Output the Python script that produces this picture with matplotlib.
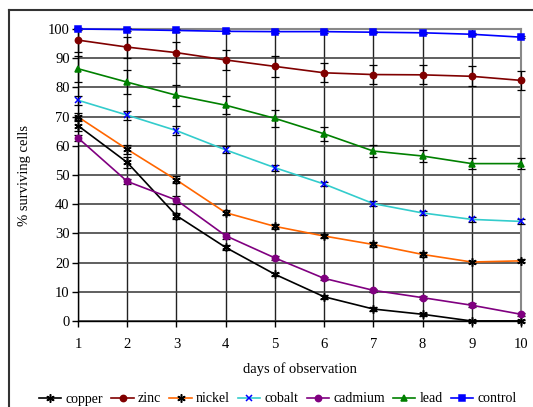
import matplotlib
matplotlib.use("Agg")
import matplotlib.pyplot as plt
from matplotlib.lines import Line2D

days = [1, 2, 3, 4, 5, 6, 7, 8, 9, 10]
copper = [66.9, 54.3, 36.1, 25.2, 16.0, 8.3, 4.1, 2.3, 0.0, 0.0]
zinc = [96.2, 93.8, 91.9, 89.4, 87.2, 85.0, 84.4, 84.3, 83.8, 82.4]
nickel = [69.9, 58.8, 48.3, 37.1, 32.4, 29.1, 26.2, 22.8, 20.2, 20.6]
cobalt = [75.6, 70.5, 65.2, 58.6, 52.5, 46.9, 40.2, 37.0, 34.8, 34.1]
cadmium = [62.7, 47.8, 41.4, 29.2, 21.6, 14.6, 10.5, 8.0, 5.4, 2.3]
lead = [86.4, 81.8, 77.3, 73.9, 69.4, 64.1, 58.2, 56.5, 53.9, 53.9]
control = [100.0, 99.8, 99.5, 99.2, 99.1, 99.1, 98.9, 98.7, 98.2, 97.2]

copper_err = [2.0, 1.8, 1.0, 0.8, 0.6, 0.6, 0.6, 0.5, 0.5, 0.5]
zinc_err = [4.0, 3.6, 3.6, 3.5, 3.5, 3.3, 3.3, 3.3, 3.4, 3.2]
nickel_err = [1.5, 1.5, 1.2, 0.8, 0.8, 0.8, 0.8, 0.8, 0.5, 0.5]
cobalt_err = [1.5, 1.5, 1.5, 1.2, 1.0, 0.8, 0.8, 0.8, 0.8, 0.8]
cadmium_err = [1.0, 1.0, 1.5, 1.0, 0.8, 0.6, 0.6, 0.6, 0.6, 0.6]
lead_err = [4.5, 4.0, 3.5, 3.0, 2.9, 2.5, 2.0, 2.0, 2.0, 2.0]
control_err = [0.4, 0.4, 0.4, 0.4, 0.4, 0.4, 0.4, 0.4, 0.4, 0.4]

labels = ["copper", "zinc", "nickel", "cobalt", "cadmium", "lead", "control"]

plt.rcParams['font.family'] = ['Liberation Serif', 'DejaVu Serif']

fig = plt.figure(figsize=(5.33, 4.07), dpi=100)
ax = fig.add_axes([78/533, 1-321/407, (521-78)/533, (321-29)/407])

# frame around chart area
fig.add_artist(Line2D([9/533, 9/533], [0, 1-10/407], color='#333333', lw=1.5, transform=fig.transFigure))
fig.add_artist(Line2D([9/533, 1], [1-10/407, 1-10/407], color='#333333', lw=1.5, transform=fig.transFigure))

series = [
    (copper, copper_err, 'black', 'black', (6, 2, 0), 6),
    (zinc, zinc_err, '#800000', '#800000', 'o', 4.5),
    (nickel, nickel_err, '#FF6600', 'black', (6, 2, 0), 6),
    (cobalt, cobalt_err, '#33CCCC', '#0000FF', 'x', 5),
    (cadmium, cadmium_err, '#800080', '#800080', 'o', 4.5),
    (lead, lead_err, '#008000', '#008000', '^', 5),
    (control, control_err, '#0000FF', '#0000FF', 's', 4.5),
]

handles = []
for (vals, err, lc, mc, mk, ms), lab in zip(series, labels):
    ax.errorbar(days, vals, yerr=err, fmt='none', ecolor='black', elinewidth=0.9,
                capsize=3, capthick=0.9, zorder=3, clip_on=False)
    h, = ax.plot(days, vals, color=lc, lw=1.2, marker=mk, markersize=ms,
                 markerfacecolor=mc, markeredgecolor=mc, markeredgewidth=1.1,
                 zorder=4, clip_on=False, label=lab)
    handles.append(h)

ax.set_xlim(1, 10)
ax.set_ylim(0, 100)
ax.set_xticks(days)
ax.set_yticks(range(0, 101, 10))
ax.yaxis.grid(True, color='#444444', lw=1.2)
ax.xaxis.grid(True, color='#222222', lw=1.0)
ax.set_axisbelow(True)

for s in ['top', 'right']:
    ax.spines[s].set_color('#888888')
    ax.spines[s].set_linewidth(1.5)
for s in ['left', 'bottom']:
    ax.spines[s].set_color('black')
    ax.spines[s].set_linewidth(1.0)

ax.tick_params(axis='y', direction='out', length=4, width=1, labelsize=10.5, pad=2)
ax.tick_params(axis='x', direction='out', length=4, width=1, labelsize=10.5, pad=8)

ax.set_ylabel('% surviving cells', fontsize=10.5, labelpad=12)
ax.set_xlabel('days of observation', fontsize=10.5, labelpad=8)

fig.legend(handles=handles, labels=labels, loc='center', bbox_to_anchor=(278/533, 1-399/407),
           ncol=7, frameon=False, fontsize=10, handlelength=1.6, handletextpad=0.3,
           columnspacing=0.6, borderaxespad=0, borderpad=0)

fig.savefig('out.png', dpi=100)
